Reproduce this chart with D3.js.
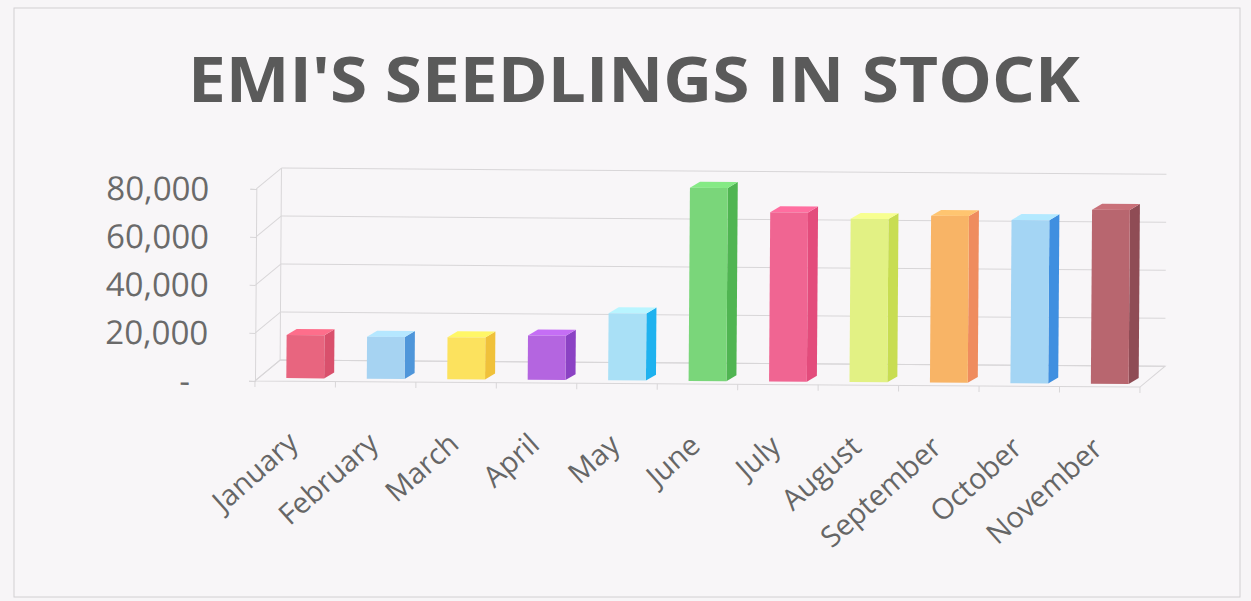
<!DOCTYPE html>
<html>
<head>
<meta charset="utf-8">
<script src="https://cdn.jsdelivr.net/npm/d3@7"></script>
<style>
  html, body { margin: 0; padding: 0; background: #f7f5f7; }
  svg { display: block; }
  .yAxis text { font-family: "Open Sans", sans-serif; font-size: 33px; fill: #6a6a6a; }
  .xAxis text { font-family: "Open Sans", sans-serif; font-size: 29px; fill: #666; }
</style>
</head>
<body>
<div id="chart"></div>
<script>
const months = ['January', 'February', 'March', 'April', 'May', 'June',
  'July', 'August', 'September', 'October', 'November'];
const seedlings = [18000, 17500, 17500, 18500, 28000, 80500, 70500, 68000, 69500, 68000, 72500];
const yTicks = [0, 20000, 40000, 60000, 80000];

const frontColors = ['#e8657f', '#a6d3f2', '#fce25e', '#b465e0', '#a9e0f6', '#7ad67a',
  '#f06592', '#e2f184', '#f8b466', '#a4d5f4', '#b8666f'];
const sideColors = ['#d9506c', '#4f96da', '#f0c13a', '#8b42c4', '#1fb2ef', '#50b552',
  '#e34c7c', '#c8dd52', '#ef8c5e', '#3f8fe0', '#8f4c55'];

const WIDTH = 1251;
const HEIGHT = 601;
const FLOOR_LEFT = 255;
const FLOOR_RIGHT = 1140;
const Y_ZERO = 384;
const Y_TOP = 192;
const WALL_DX = 25;
const WALL_DY = -21;
const BAR_OFF_DX = 10;
const BAR_OFF_DY = -3;
const BAR_DX = 10;
const BAR_DY = -6;
const GRID = '#d8d6d8';

let svg = d3.select('#chart').append('svg')
  .attr('width', WIDTH)
  .attr('height', HEIGHT);

// chart border
svg.append('rect')
  .attr('x', 14).attr('y', 8)
  .attr('width', 1226).attr('height', 589)
  .attr('fill', '#f8f6f8')
  .attr('stroke', '#d2d0d2');

svg.append('text')
  .attr('x', 634)
  .attr('y', 102)
  .attr('text-anchor', 'middle')
  .attr('textLength', 892)
  .attr('lengthAdjust', 'spacingAndGlyphs')
  .style('font-family', '"Open Sans", sans-serif')
  .style('font-weight', 700)
  .style('font-size', '62px')
  .style('fill', '#5a5a5a')
  .text("EMI'S SEEDLINGS IN STOCK");

// the scan is a little tilted
let plot = svg.append('g')
  .attr('transform', 'rotate(0.4, 700, 380)');

let yScale = d3.scaleLinear()
  .domain([0, 80000])
  .range([Y_ZERO, Y_TOP]);

let xScale = d3.scaleBand()
  .domain(months)
  .range([FLOOR_LEFT, FLOOR_RIGHT])
  .paddingInner(0.53)
  .paddingOuter(0.265);

let step = xScale.step();

// floor
plot.append('path')
  .attr('d', `M${FLOOR_LEFT},${Y_ZERO} L${FLOOR_RIGHT},${Y_ZERO} ` +
    `L${FLOOR_RIGHT + WALL_DX},${Y_ZERO + WALL_DY} L${FLOOR_LEFT + WALL_DX},${Y_ZERO + WALL_DY} Z`)
  .attr('fill', 'none')
  .attr('stroke', GRID);

// back wall gridlines and side wall diagonals
let grid = plot.append('g').attr('class', 'grid');
grid.selectAll('line.back')
  .data(yTicks)
  .enter()
  .append('line')
  .attr('class', 'back')
  .attr('x1', FLOOR_LEFT + WALL_DX)
  .attr('x2', FLOOR_RIGHT + WALL_DX)
  .attr('y1', (d) => yScale(d) + WALL_DY)
  .attr('y2', (d) => yScale(d) + WALL_DY)
  .attr('stroke', GRID);

grid.selectAll('line.side')
  .data(yTicks)
  .enter()
  .append('line')
  .attr('class', 'side')
  .attr('x1', FLOOR_LEFT)
  .attr('x2', FLOOR_LEFT + WALL_DX)
  .attr('y1', (d) => yScale(d))
  .attr('y2', (d) => yScale(d) + WALL_DY)
  .attr('stroke', GRID);

grid.append('line')
  .attr('x1', FLOOR_LEFT + WALL_DX).attr('x2', FLOOR_LEFT + WALL_DX)
  .attr('y1', yScale(80000) + WALL_DY).attr('y2', Y_ZERO + WALL_DY)
  .attr('stroke', GRID);

// tick marks between categories on the floor edge
grid.selectAll('line.catTick')
  .data(d3.range(months.length + 1))
  .enter()
  .append('line')
  .attr('class', 'catTick')
  .attr('x1', (i) => FLOOR_LEFT + i * step)
  .attr('x2', (i) => FLOOR_LEFT + i * step)
  .attr('y1', Y_ZERO)
  .attr('y2', Y_ZERO + 6)
  .attr('stroke', GRID);

let yAxis = d3.axisLeft(yScale)
  .tickValues(yTicks)
  .tickSize(6)
  .tickPadding(41)
  .tickFormat((d) => d === 0 ? '-' : d3.format(',')(d));

let yG = plot.append('g')
  .attr('class', 'yAxis')
  .attr('transform', `translate(${FLOOR_LEFT}, 0)`)
  .call(yAxis);
yG.select('.domain').attr('stroke', GRID);
yG.selectAll('.tick line').attr('stroke', GRID);
yG.selectAll('.tick text')
  .attr('dy', '0.35em')
  .filter((d) => d === 0)
  .attr('dx', -18);

// bars
let bars = plot.append('g').attr('class', 'bars');
months.forEach((m, i) => {
  let x0 = xScale(m) + BAR_OFF_DX;
  let w = xScale.bandwidth();
  let yb = yScale(0) + BAR_OFF_DY;
  let yt = yScale(seedlings[i]) + BAR_OFF_DY;
  let g = bars.append('g');

  g.append('path')
    .attr('d', `M${x0 + w},${yb} L${x0 + w + BAR_DX},${yb + BAR_DY} ` +
      `L${x0 + w + BAR_DX},${yt + BAR_DY} L${x0 + w},${yt} Z`)
    .attr('fill', sideColors[i]);

  g.append('path')
    .attr('d', `M${x0},${yt} L${x0 + BAR_DX},${yt + BAR_DY} ` +
      `L${x0 + w + BAR_DX},${yt + BAR_DY} L${x0 + w},${yt} Z`)
    .attr('fill', d3.color(frontColors[i]).brighter(0.25));

  g.append('rect')
    .attr('x', x0)
    .attr('y', yt)
    .attr('width', w)
    .attr('height', yb - yt)
    .attr('fill', frontColors[i]);
});

let xAxis = d3.axisBottom(xScale)
  .tickSize(0)
  .tickSizeOuter(0);

let xG = plot.append('g')
  .attr('class', 'xAxis')
  .attr('transform', `translate(0, ${Y_ZERO})`)
  .call(xAxis);
xG.select('.domain').remove();
xG.selectAll('.tick text')
  .attr('text-anchor', 'end')
  .attr('dy', 0)
  .attr('transform', 'translate(3, 62) rotate(-42)');
</script>
</body>
</html>
